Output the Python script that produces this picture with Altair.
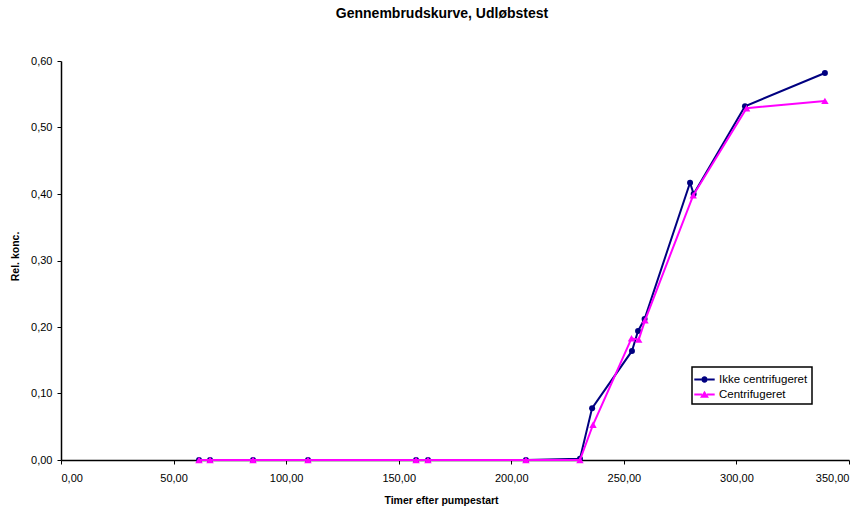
import altair as alt
import pandas as pd

# Series names and colours
series_names = ["Ikke centrifugeret", "Centrifugeret"]
series_colors = ["#000080", "#FF00FF"]

# Hours after pump start and relative concentration, not centrifuged
hours_ikke = [61.3, 66.2, 85.3, 109.7, 157.7, 163.0, 206.5, 230.5, 235.9,
              253.6, 256.3, 259.2, 279.4, 281.0, 303.8, 339.3]
conc_ikke = [0.0, 0.0, 0.0, 0.0, 0.0, 0.0, 0.0, 0.002, 0.078,
             0.164, 0.194, 0.212, 0.417, 0.400, 0.532, 0.582]

# Hours after pump start and relative concentration, centrifuged
hours_cent = [61.3, 66.2, 85.3, 109.7, 157.7, 163.0, 206.5, 230.5, 236.3,
              253.4, 256.6, 259.4, 280.8, 304.5, 339.3]
conc_cent = [0.0, 0.0, 0.0, 0.0, 0.0, 0.0, 0.0, 0.0, 0.053,
             0.183, 0.181, 0.210, 0.398, 0.529, 0.540]

x_ticks = [0, 50, 100, 150, 200, 250, 300, 350]
y_ticks = [0.0, 0.1, 0.2, 0.3, 0.4, 0.5, 0.6]


def frame(name, hours, conc):
    return pd.DataFrame({"timer": hours, "konc": conc, "serie": name,
                         "nr": list(range(len(hours)))})


df = pd.concat([frame(series_names[0], hours_ikke, conc_ikke),
                frame(series_names[1], hours_cent, conc_cent)],
               ignore_index=True)

FONT = "Liberation Sans"
comma_fmt = "replace(format(datum.value, '.2f'), '.', ',')"

x_enc = alt.X("timer:Q",
              scale=alt.Scale(domain=[0, 350], nice=False, zero=False),
              axis=alt.Axis(values=x_ticks, labelExpr=comma_fmt,
                            title="Timer efter pumpestart",
                            titleX=380, titleY=43, titleBaseline="alphabetic",
                            labelPadding=8))
y_enc = alt.Y("konc:Q",
              scale=alt.Scale(domain=[0, 0.6], nice=False),
              axis=alt.Axis(values=y_ticks, labelExpr=comma_fmt,
                            title="Rel. konc.",
                            titleX=-43, titleY=195, titleBaseline="alphabetic",
                            labelPadding=5))

marker_shapes = ["circle", "triangle-up"]
marker_sizes = [36, 55]

layers = []
for name, color, shape, size in zip(series_names, series_colors,
                                    marker_shapes, marker_sizes):
    base = alt.Chart(df).transform_filter(alt.datum.serie == name).encode(
        x=x_enc, y=y_enc, order=alt.Order("nr:Q"))
    layers.append(base.mark_line(color=color, strokeWidth=2))
    layers.append(base.mark_point(shape=shape, filled=True, size=size,
                                  color=color, opacity=1))

# Legend symbols: a short line with the series marker in the middle
legend_paths = [
    "M-1.2,-0.12H-0.38V0.12H-1.2Z M0.38,-0.12H1.2V0.12H0.38Z "
    "M-0.38,0A0.38,0.38 0 1,0 0.38,0A0.38,0.38 0 1,0 -0.38,0Z",
    "M-1.2,-0.12H-0.3V0.12H-1.2Z M0.3,-0.12H1.2V0.12H0.3Z "
    "M0,-0.45L0.53,0.38H-0.53Z",
]

leg = alt.Legend(title=None, orient="none", legendX=631, legendY=306,
                 symbolSize=289, symbolStrokeWidth=0, symbolOpacity=1,
                 labelFont=FONT, labelFontSize=11.5, labelColor="black",
                 labelOffset=6, padding=4, rowPadding=1,
                 strokeColor="black", fillColor="white")

legend_layer = alt.Chart(df).transform_filter("false").mark_point(
    filled=True, opacity=1).encode(
    color=alt.Color("serie:N",
                    scale=alt.Scale(domain=series_names, range=series_colors),
                    legend=leg),
    shape=alt.Shape("serie:N",
                    scale=alt.Scale(domain=series_names, range=legend_paths),
                    legend=leg),
)

chart = alt.layer(*layers, legend_layer).properties(
    width=788,
    height=399,
    title=alt.TitleParams("Gennembrudskurve, Udløbstest", font=FONT,
                          fontSize=14, fontWeight="bold", color="black",
                          anchor="middle", dx=-13, offset=34),
    autosize=alt.AutoSizeParams(type="none"),
    padding={"left": 61, "top": 61, "right": 19, "bottom": 46},
    background="white",
).configure_view(
    stroke=None,
).configure_axis(
    grid=False,
    labelFont=FONT, labelFontSize=11, labelColor="black",
    titleFont=FONT, titleFontSize=10.5, titleFontWeight="bold", titleColor="black",
    domainColor="black", domainWidth=1.5,
    tickColor="black", tickSize=4, tickWidth=1,
).configure_legend(
    strokeWidth=1.5,
)

chart.save("out.html", embed_options={"renderer": "svg", "actions": False})
